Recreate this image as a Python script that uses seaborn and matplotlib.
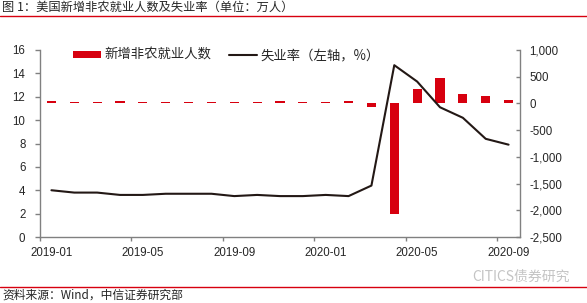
import numpy as np
import pandas as pd
import matplotlib
matplotlib.use("Agg")
import matplotlib.pyplot as plt
import seaborn as sns
from matplotlib.ticker import FuncFormatter
from matplotlib.patches import Patch
from matplotlib.lines import Line2D

months = ["2019-01", "2019-02", "2019-03", "2019-04", "2019-05", "2019-06", "2019-07",
          "2019-08", "2019-09", "2019-10", "2019-11", "2019-12", "2020-01", "2020-02",
          "2020-03", "2020-04", "2020-05", "2020-06", "2020-07", "2020-08", "2020-09"]
nonfarm = [40, 25, 25, 40, 25, 25, 25, 25, 25, 25, 40, 25, 25, 40,
           -70, -2070, 270, 480, 175, 140, 66]
unemp = [4.0, 3.8, 3.8, 3.6, 3.6, 3.7, 3.7, 3.7, 3.5, 3.6, 3.5, 3.5, 3.6, 3.5,
         4.4, 14.7, 13.3, 11.1, 10.2, 8.4, 7.9]
xtick_labels = ["2019-01", "2019-05", "2019-09", "2020-01", "2020-05", "2020-09"]

title = "图 1：美国新增非农就业人数及失业率（单位：万人）"
legend_bar = "新增非农就业人数"
legend_line = "失业率（左轴，%）"
source = "资料来源：Wind，中信证券研究部"
watermark = "CITICS债券研究"

sns.set_style("white")
plt.rcParams['font.family'] = ['Liberation Sans', 'Noto Sans CJK SC', 'DejaVu Sans']
CJK = ['Noto Sans CJK SC', 'DejaVu Sans']

RED = "#D7000F"
GRAY = "#808080"
LINE = "#231815"

df = pd.DataFrame({"month": months, "nonfarm": nonfarm, "unemp": unemp})
df["pos"] = np.arange(len(df)) + 0.5

fig = plt.figure(figsize=(5.87, 3.03), dpi=100)
ax = fig.add_axes([40/587, 1-237/303, (520-40)/587, (237-50)/303])
ax2 = ax.twinx()

sns.barplot(data=df, x="pos", y="nonfarm", ax=ax2, native_scale=True, width=0.4,
            color=RED, saturation=1, edgecolor="none", linewidth=0)
sns.lineplot(data=df, x="pos", y="unemp", ax=ax, color=LINE, linewidth=1.5)

ax.set_zorder(ax2.get_zorder() + 1)
ax.patch.set_visible(False)

ax.set_xlim(0, 21)
ax.set_ylim(0, 16)
ax.set_yticks(np.arange(0, 17, 2))
ax2.set_ylim(-2500, 1000)
ax2.set_yticks(np.arange(-2500, 1001, 500))
ax2.yaxis.set_major_formatter(FuncFormatter(lambda v, p: f"{v:,.0f}"))
major = [0, 4, 8, 12, 16, 20]
ax.set_xticks(major)
ax.set_xticklabels([""] * len(major))
ax.set_xticks([m + 0.5 for m in major], minor=True)
ax.set_xticklabels(xtick_labels, minor=True)
for a in (ax, ax2):
    a.set_xlabel("")
    a.set_ylabel("")
    for s in a.spines.values():
        s.set_color(GRAY)
        s.set_linewidth(1.0)
    a.spines["top"].set_visible(False)
ax.spines["right"].set_visible(False)
ax2.spines["left"].set_visible(False)
ax2.spines["bottom"].set_visible(False)

ax.tick_params(axis="y", direction="out", length=3.5, width=1, color=GRAY, labelsize=8.3, pad=7, left=True)
ax.tick_params(axis="x", which="major", direction="out", length=3, width=1, color=GRAY, bottom=True)
ax.tick_params(axis="x", which="minor", length=0, labelsize=8.3, pad=7, bottom=True)
ax2.tick_params(axis="y", direction="in", length=3, width=1, color=GRAY, labelsize=8.3, pad=6.5, right=True)

handles = [Patch(facecolor=RED, edgecolor="none"), Line2D([], [], color=LINE, linewidth=1.5)]
leg = fig.legend(handles, [legend_bar, legend_line], loc="center left",
                 bbox_to_anchor=(73/587, 1-55/303), bbox_transform=fig.transFigure,
                 ncol=2, frameon=False, prop={"family": CJK, "size": 9.6},
                 handlelength=2.1, handleheight=0.4, columnspacing=1.3, handletextpad=0.25,
                 borderpad=0, borderaxespad=0)

fig.text(0.003, 1-7.5/303, title, family=CJK, fontsize=8.8, va="center", ha="left")
fig.add_artist(Line2D([0, 1], [1-15.5/303, 1-15.5/303], color=RED, linewidth=1.0, transform=fig.transFigure))
fig.add_artist(Line2D([0, 1], [1-286.5/303, 1-286.5/303], color=RED, linewidth=1.0, transform=fig.transFigure))
fig.text(0.005, 1-295.5/303, source, family=CJK, fontsize=8.5, va="center", ha="left")
fig.text(472/587, 1-277/303, watermark, family=CJK, fontsize=10, color="#C4C4C4", va="center", ha="left")

fig.savefig("out.png", dpi=100)
